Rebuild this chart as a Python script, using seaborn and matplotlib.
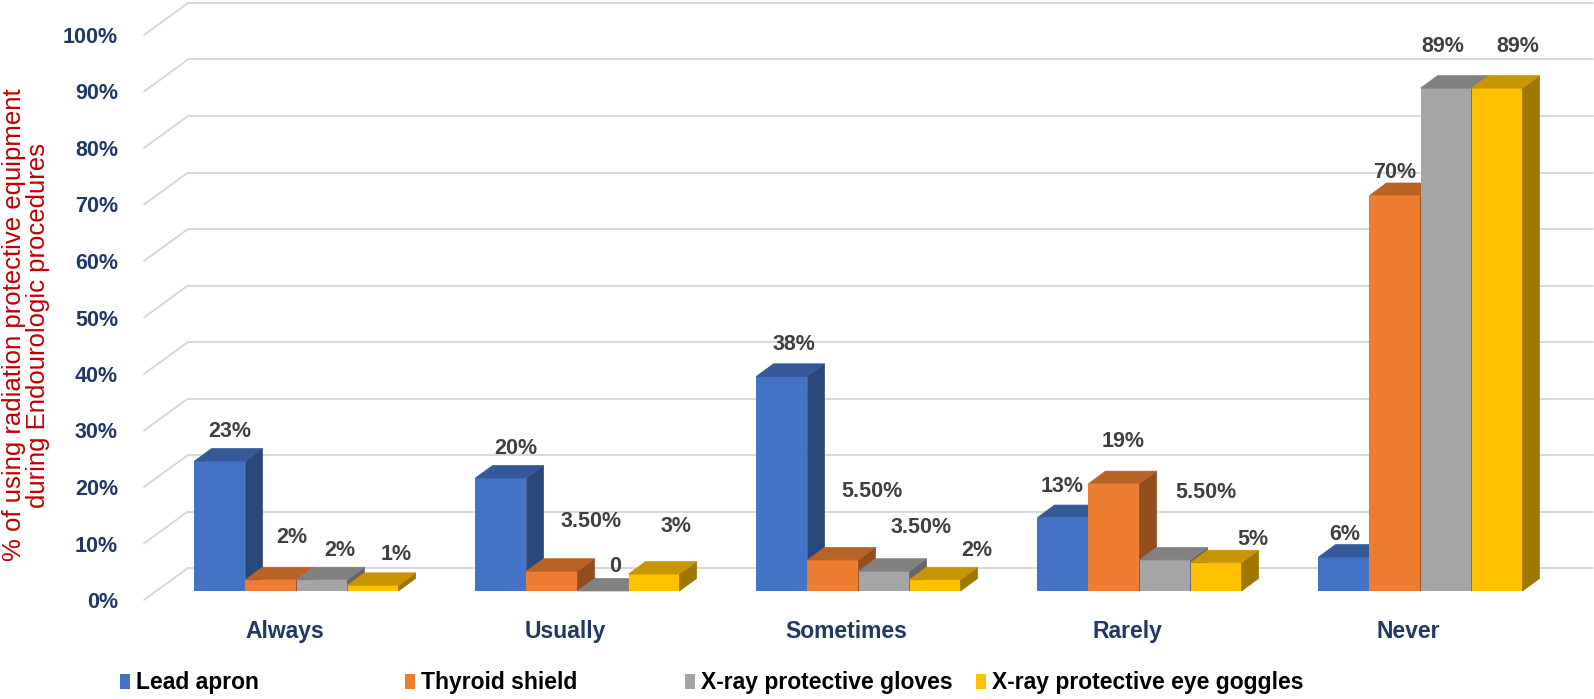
import numpy as np
import pandas as pd
import matplotlib
matplotlib.use("Agg")
import matplotlib.pyplot as plt
import matplotlib.colors as mcolors
import seaborn as sns
from matplotlib.patches import Polygon, Patch
from matplotlib.lines import Line2D
from matplotlib.transforms import IdentityTransform, ScaledTranslation, offset_copy

# ---------------- data ----------------
categories = ["Always", "Usually", "Sometimes", "Rarely", "Never"]
series = ["Lead apron", "Thyroid shield", "X-ray protective gloves",
          "X-ray protective eye goggles"]

lead_apron = [23, 20, 38, 13, 6]
thyroid_shield = [2, 3.5, 5.5, 19, 70]
xray_gloves = [2, 0, 3.5, 5.5, 89]
eye_goggles = [1, 3, 2, 5, 89]

lead_apron_labels = ["23%", "20%", "38%", "13%", "6%"]
thyroid_shield_labels = ["2%", "3.50%", "5.50%", "19%", "70%"]
xray_gloves_labels = ["2%", "0", "3.50%", "5.50%", "89%"]
eye_goggles_labels = ["1%", "3%", "2%", "5%", "89%"]

y_ticks = [0, 10, 20, 30, 40, 50, 60, 70, 80, 90, 100]
y_tick_labels = ["0%", "10%", "20%", "30%", "40%", "50%", "60%", "70%",
                 "80%", "90%", "100%"]

y_title = "% of using radiation protective equipment\nduring Endourologic procedures"

# ---------------- style ----------------
colors = ["#4472C4", "#ED7D31", "#A5A5A5", "#FFC000"]
navy = "#1F3864"
grid_col = "#D9D9D9"
label_col = "#404040"

# label nudges (pixels, right / up) relative to default spot above each bar
label_nudges = [
    [(1, 0), (6, 0), (3, 2), (-9, 2), (-8, -7)],
    [(12, 13), (31, 20), (30, 39), (1, 13), (-9, -7)],
    [(9, 0), (4, -5), (29, 14), (32, 38), (-12, 12)],
    [(15, 1), (14, 18), (33, 0), (28, -6), (12, 12)],
]

DEPTH = np.array([17.0, 12.5])   # bar depth in pixels
WALL = np.array([32.0, 23.0])    # back wall offset
FRONT = np.array([-12.0, -9.0])  # front floor edge offset

sns.set_theme(style="white")
plt.rcParams["font.family"] = ["Liberation Sans", "DejaVu Sans"]

W, H = 1594, 699
fig = plt.figure(figsize=(W / 100, H / 100), dpi=100)
ax = fig.add_axes([156 / W, (H - 591) / H, 1405 / W, 565 / H])
ax.patch.set_alpha(0)

values = [lead_apron, thyroid_shield, xray_gloves, eye_goggles]
labels_all = [lead_apron_labels, thyroid_shield_labels, xray_gloves_labels,
              eye_goggles_labels]
df = pd.DataFrame({
    "category": [c for s in series for c in categories],
    "series": [s for s in series for c in categories],
    "value": [v for vals in values for v in vals],
})

sns.barplot(data=df, x="category", y="value", hue="series", order=categories,
            hue_order=series, palette=colors, width=0.726, saturation=1,
            errorbar=None, legend=False, linewidth=0, ax=ax)

ax.set_xlim(-0.5, 4.5)
ax.set_ylim(0, 100)
ax.set_xlabel("")
ax.set_ylabel("")
for sp in ax.spines.values():
    sp.set_visible(False)
ax.grid(False)

# ticks
ax.set_yticks(y_ticks, labels=y_tick_labels)
ax.set_xticks(range(len(categories)), labels=categories)
ax.tick_params(axis="y", length=0, pad=26 * 0.72, labelsize=15.5,
               labelcolor=navy)
ax.tick_params(axis="x", length=0, pad=20 * 0.72, labelsize=16.5,
               labelcolor=navy)
shift = ScaledTranslation(FRONT[0] / 100, FRONT[1] / 100, fig.dpi_scale_trans)
for lab in ax.get_yticklabels() + ax.get_xticklabels():
    lab.set_fontweight("bold")
    lab.set_transform(lab.get_transform() + shift)

P = lambda x, y: ax.transData.transform((x, y))

# back wall gridlines + left wall diagonals
wall_tr = offset_copy(ax.transData, fig=fig, x=WALL[0], y=WALL[1], units="dots")
x0, x1 = ax.get_xlim()
for t in y_ticks:
    ax.plot([x0, x1], [t, t], transform=wall_tr, color=grid_col, lw=1.4,
            zorder=1, clip_on=False)
    p = P(x0, t)
    a = p + FRONT
    b = p + WALL
    ax.add_line(Line2D([a[0], b[0]], [a[1], b[1]], transform=IdentityTransform(),
                       color=grid_col, lw=1.4, zorder=1, clip_on=False))


def shade(c, f):
    r, g, b = mcolors.to_rgb(c)
    return (r * f, g * f, b * f)


n_h = len(series)
for hi, cont in enumerate(ax.containers):
    for ci, bar in enumerate(cont):
        z = 10 + 3 * (ci * n_h + hi)
        bar.set_zorder(z)
        bx, bw, bh = bar.get_x(), bar.get_width(), bar.get_height()
        fl = P(bx, bh)
        fr = P(bx + bw, bh)
        brb = P(bx + bw, 0)
        side = [brb, fr, fr + DEPTH, brb + DEPTH]
        top = [fl, fr, fr + DEPTH, fl + DEPTH]
        sc = shade(colors[hi], 0.62)
        tc = shade(colors[hi], 0.78)
        ax.add_patch(Polygon(side, closed=True, facecolor=sc, edgecolor=sc,
                             lw=0.5, transform=IdentityTransform(),
                             zorder=z + 1, clip_on=False))
        ax.add_patch(Polygon(top, closed=True, facecolor=tc, edgecolor=tc,
                             lw=0.5, transform=IdentityTransform(),
                             zorder=z + 2, clip_on=False))
        # data label
        cx = P(bx + bw / 2, bh)
        pos = cx + np.array([DEPTH[0] / 2, DEPTH[1] + 17]) + np.array(label_nudges[hi][ci])
        ax.text(pos[0], pos[1], labels_all[hi][ci], transform=IdentityTransform(),
                ha="center", va="center", fontsize=15.5, fontweight="bold",
                color=label_col, zorder=200, clip_on=False)

# y title
fig.text(26 / W, 1 - 325 / H, y_title, rotation=90, ha="center", va="center",
         multialignment="center", color="#C00000", fontsize=18.5,
         linespacing=1.05)

# legend: one entry per slot
legend_x = [120, 405, 685, 976]
for i, s in enumerate(series):
    h = Patch(facecolor=colors[i], edgecolor="none")
    fig.legend(handles=[h], labels=[s], loc="center left",
               bbox_to_anchor=(legend_x[i] / W, 1 - 683 / H), frameon=False,
               borderpad=0, borderaxespad=0, handlelength=0.45,
               handleheight=0.6, handletextpad=0.25,
               prop={"size": 16.5, "weight": "bold"}, labelcolor="black")

fig.savefig("out.png", dpi=100)
